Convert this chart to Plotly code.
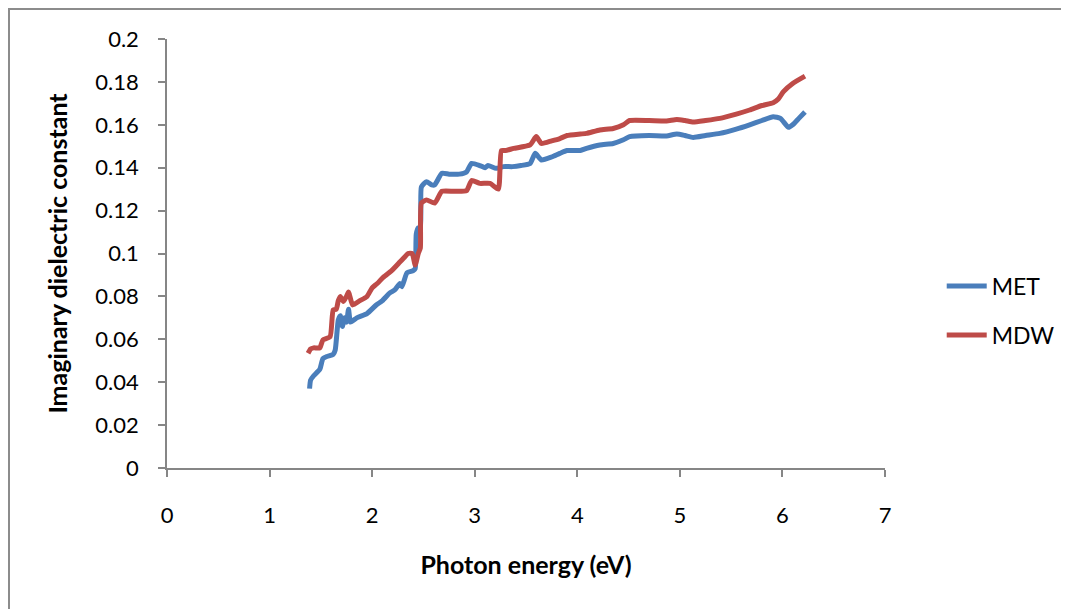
import plotly.graph_objects as go

met_x = [1.39, 1.40, 1.43, 1.49, 1.52, 1.56, 1.62, 1.64, 1.67, 1.69, 1.71, 1.73, 1.75, 1.77, 1.79,
         1.85, 1.95, 2.04, 2.10, 2.17, 2.22, 2.27, 2.29, 2.34, 2.40, 2.42, 2.43, 2.45, 2.47, 2.48,
         2.53, 2.58, 2.61, 2.68, 2.75, 2.85, 2.92, 2.97, 3.05, 3.10, 3.13, 3.21, 3.28, 3.37, 3.45,
         3.54, 3.59, 3.65, 3.75, 3.83, 3.90, 4.03, 4.09, 4.22, 4.35, 4.45, 4.51, 4.70, 4.87, 4.97,
         5.05, 5.13, 5.25, 5.39, 5.55, 5.68, 5.80, 5.91, 5.98, 6.06, 6.10, 6.16, 6.22]
met_y = [0.037, 0.041, 0.043, 0.046, 0.051, 0.052, 0.053, 0.055, 0.069, 0.071, 0.066, 0.070, 0.068, 0.074, 0.068,
         0.070, 0.072, 0.076, 0.078, 0.0815, 0.083, 0.086, 0.0845, 0.091, 0.092, 0.093, 0.109, 0.112, 0.112, 0.131,
         0.1335, 0.132, 0.132, 0.1374, 0.137, 0.137, 0.138, 0.142, 0.141, 0.140, 0.141, 0.1397, 0.1405, 0.1405, 0.141,
         0.142, 0.1467, 0.1436, 0.145, 0.1467, 0.148, 0.148, 0.149, 0.1506, 0.1513, 0.153, 0.1545, 0.155, 0.1548, 0.1557,
         0.155, 0.1541, 0.155, 0.156, 0.158, 0.160, 0.162, 0.1638, 0.163, 0.1588, 0.160, 0.163, 0.166]

mdw_x = [1.375, 1.40, 1.43, 1.49, 1.52, 1.59, 1.62, 1.65, 1.67, 1.69, 1.72, 1.75, 1.77, 1.81, 1.88,
         1.95, 2.00, 2.05, 2.11, 2.19, 2.27, 2.31, 2.35, 2.39, 2.42, 2.45, 2.47, 2.48, 2.53, 2.61,
         2.68, 2.80, 2.92, 2.97, 3.05, 3.15, 3.23, 3.26, 3.30, 3.38, 3.54, 3.60, 3.65, 3.75, 3.83,
         3.90, 4.03, 4.09, 4.22, 4.35, 4.45, 4.51, 4.70, 4.87, 4.97, 5.05, 5.13, 5.25, 5.39, 5.55,
         5.68, 5.80, 5.91, 5.96, 6.01, 6.10, 6.22]
mdw_y = [0.0535, 0.0555, 0.056, 0.056, 0.0597, 0.0612, 0.0737, 0.074, 0.078, 0.080, 0.0776, 0.080, 0.082, 0.076, 0.078,
         0.080, 0.084, 0.086, 0.089, 0.092, 0.096, 0.098, 0.100, 0.100, 0.0946, 0.100, 0.1026, 0.1235, 0.125, 0.1235,
         0.129, 0.129, 0.1293, 0.134, 0.1327, 0.1327, 0.130, 0.148, 0.148, 0.149, 0.1506, 0.1545, 0.1513, 0.1525, 0.1536,
         0.155, 0.1557, 0.156, 0.1576, 0.1583, 0.160, 0.162, 0.162, 0.1618, 0.1625, 0.162, 0.1613, 0.162, 0.163, 0.165,
         0.1669, 0.169, 0.1703, 0.172, 0.1755, 0.1793, 0.1827]

series_names = ["MET", "MDW"]
series_colors = ["#4A7EBB", "#BE4B48"]

x_title = "Photon energy (eV)"
y_title = "Imaginary dielectric constant"

FONT = "Lato, Carlito, Calibri, sans-serif"
AXIS_GRAY = "#868686"

fig = go.Figure()
for i, (name, xs, ys, col) in enumerate([(series_names[0], met_x, met_y, series_colors[0]),
                                         (series_names[1], mdw_x, mdw_y, series_colors[1])]):
    fig.add_trace(go.Scatter(x=xs, y=ys, name=name, mode="lines", legendgroup="g%d" % i,
                             line=dict(color=col, width=5, shape="spline", smoothing=0.5)))

# page body has an 8px margin, so the figure is shifted left/up by 8px
fig.update_layout(
    width=1069, height=609,
    margin=dict(l=159, r=192, t=31, b=149),
    paper_bgcolor="white", plot_bgcolor="white",
    font=dict(family=FONT, size=22, color="black"),
    showlegend=True,
    legend=dict(x=1.079, y=0.367, xanchor="left", yanchor="middle",
                font=dict(family=FONT, size=23, color="black"),
                tracegroupgap=16, itemwidth=40, bgcolor="rgba(0,0,0,0)"),
    xaxis=dict(range=[0, 7], dtick=1, tick0=0, showgrid=False, zeroline=False,
               showline=True, linecolor=AXIS_GRAY, linewidth=1.5,
               ticks="outside", ticklen=7, tickwidth=1.5, tickcolor=AXIS_GRAY,
               ticklabelstandoff=20, tickfont=dict(size=22),
               title=dict(text="<b>" + x_title + "</b>", font=dict(family=FONT, size=25), standoff=29)),
    yaxis=dict(range=[0, 0.2], dtick=0.02, tick0=0, showgrid=False, zeroline=False,
               showline=True, linecolor=AXIS_GRAY, linewidth=1.5,
               ticks="outside", ticklen=7, tickwidth=1.5, tickcolor=AXIS_GRAY,
               ticklabelstandoff=15, tickfont=dict(size=22),
               title=dict(text="<b>" + y_title + "</b>", font=dict(family=FONT, size=25), standoff=21)),
    shapes=[dict(type="rect", xref="paper", yref="paper",
                 x0=(9 - 167) / 718, x1=(1090 - 167) / 718,
                 y0=(468 - 630) / 429, y1=(468 - 9) / 429,
                 line=dict(color="#8C8C8C", width=2), fillcolor="rgba(0,0,0,0)", layer="below")],
)

fig.write_html("out.html")
